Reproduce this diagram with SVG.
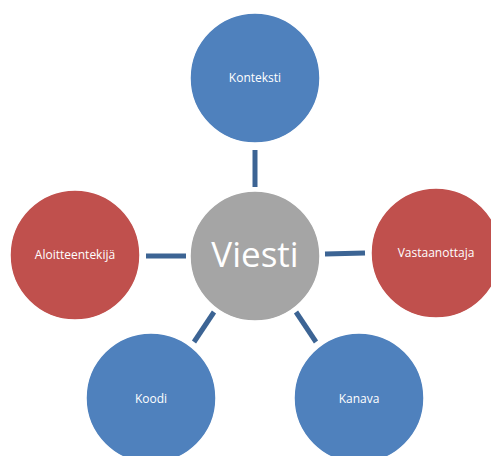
<svg xmlns="http://www.w3.org/2000/svg" width="491" height="456" viewBox="0 0 491 456">
<style>
.c{stroke:#ffffff;stroke-width:1.5}
.blue{fill:#4f81bd}
.red{fill:#c0504d}
.gray{fill:#a5a5a5}
.lbl{font-family:"Open Sans","Liberation Sans",sans-serif;font-size:12px;fill:#ffffff;text-anchor:middle}
.big{font-family:"Open Sans","Liberation Sans",sans-serif;font-size:35px;fill:#ffffff;text-anchor:middle}
.conn line{stroke:#3c6494;stroke-width:5}
</style>
<rect width="491" height="456" fill="#ffffff"/>
<g id="connectors" class="conn">
<line x1="255" y1="150" x2="255" y2="187"/>
<line x1="146" y1="256" x2="186" y2="256"/>
<line x1="325" y1="254" x2="365" y2="253"/>
<line x1="214" y1="312" x2="194" y2="342"/>
<line x1="296" y1="312" x2="316" y2="342"/>
</g>
<g id="konteksti"><circle class="c blue" cx="255" cy="78" r="65"/><text class="lbl" x="255" y="82">Konteksti</text></g>
<g id="viesti"><circle class="c gray" cx="255" cy="256" r="65"/><text class="big" x="255" y="267">Viesti</text></g>
<g id="aloitteentekija"><circle class="c red" cx="75" cy="255" r="65"/><text class="lbl" x="75" y="259">Aloitteentekijä</text></g>
<g id="vastaanottaja"><circle class="c red" cx="436" cy="253" r="65"/><text class="lbl" x="436" y="257">Vastaanottaja</text></g>
<g id="koodi"><circle class="c blue" cx="151" cy="398" r="65"/><text class="lbl" x="151" y="403">Koodi</text></g>
<g id="kanava"><circle class="c blue" cx="359" cy="398" r="65"/><text class="lbl" x="359" y="403">Kanava</text></g>
</svg>
